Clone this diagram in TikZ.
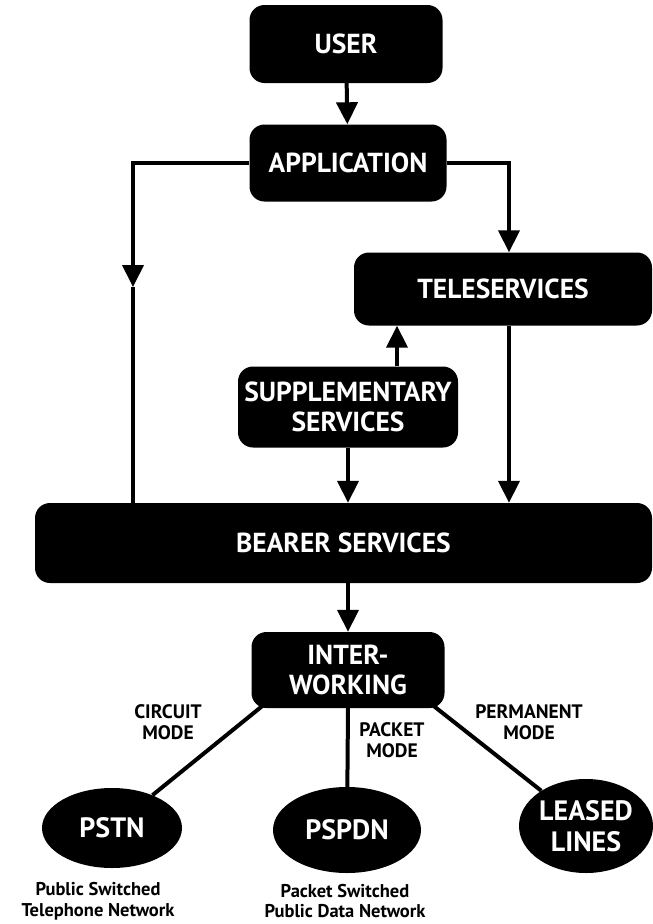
\documentclass[tikz,border=0pt]{standalone}
\usepackage{fontspec}
\setmainfont{PT Sans}
\usetikzlibrary{arrows.meta,shapes.geometric}
\tikzset{box/.style={fill=black,text=white,rounded corners=15pt,inner sep=0pt,
    align=center,font=\bfseries\fontsize{27.5}{30}\selectfont},
    net/.style={ellipse,fill=black,text=white,inner sep=0pt,
    align=center,font=\bfseries\fontsize{28}{31}\selectfont},
    flow/.style={line width=4pt,-{Triangle[length=22pt,width=21pt]}},
    link/.style={line width=4pt},
    mode/.style={align=center,font=\bfseries\fontsize{19.5}{21}\selectfont},
    caption/.style={align=center,inner sep=1pt,font=\bfseries\fontsize{18.5}{20.5}\selectfont},
    }

\begin{document}
\begin{tikzpicture}[x=1pt,y=-1pt]
\useasboundingbox (0,0) rectangle (653,924);
% service boxes
\node[box,minimum width=193pt,minimum height=78pt] (user) at (346,44) {USER};
\node[box,minimum width=197pt,minimum height=77pt] (app) at (348,163) {APPLICATION};
\node[box,minimum width=298pt,minimum height=73pt] (tele) at (503,289) {TELESERVICES};
\node[box,minimum width=220pt,minimum height=81pt] (supp) at (348,407) {SUPPLEMENTARY\\SERVICES};
\node[box,minimum width=617pt,minimum height=80pt] (bearer) at (343.5,543) {BEARER SERVICES};
\node[box,minimum width=193pt,minimum height=76pt] (inter) at (348,670) {INTER-\\WORKING};
% networks
\node[net,minimum width=140pt,minimum height=80pt] (pstn) at (112,828) {PSTN};
\node[net,minimum width=148pt,minimum height=86pt] (pspdn) at (347,830) {PSPDN};
\node[net,minimum width=134pt,minimum height=94pt] (leased) at (586,826) {LEASED\\LINES};

\coordinate (lmid) at (133,287);
\coordinate (rtop) at (509,0);
\draw[flow] (user) -- (app);
\draw[flow] (app.west) -| (lmid);
\draw[link] (lmid) -- (lmid |- bearer.north);
\draw[flow] (app.east) -| (rtop |- tele.north);
\draw[flow] (rtop |- tele.south) -- (rtop |- bearer.north);
\draw[flow] ([xshift=49pt]supp.north) -- ([xshift=49pt]supp.north |- tele.south);
\draw[flow] (supp.south) -- (supp.south |- bearer.north);
\draw[flow] (bearer.south -| inter) -- (inter.north);
% interworking links
\draw[link] ([xshift=12pt,yshift=3pt]inter.south west) -- (pstn);
\draw[link] (inter.south) -- (pspdn);
\draw[link] ([xshift=-12pt,yshift=3pt]inter.south east) -- (leased);

\node[mode] (circ) at (168,722) {CIRCUIT\\MODE};
\node[mode] (pack) at (392,740) {PACKET\\MODE};
\node[mode] (perm) at (529,722) {PERMANENT\\MODE};
\node[caption] (pstncap) at (98,901) {Public Switched\\Telephone Network};
\node[caption] (pspdncap) at (345,901) {Packet Switched\\Public Data Network};
\end{tikzpicture}
\end{document}
